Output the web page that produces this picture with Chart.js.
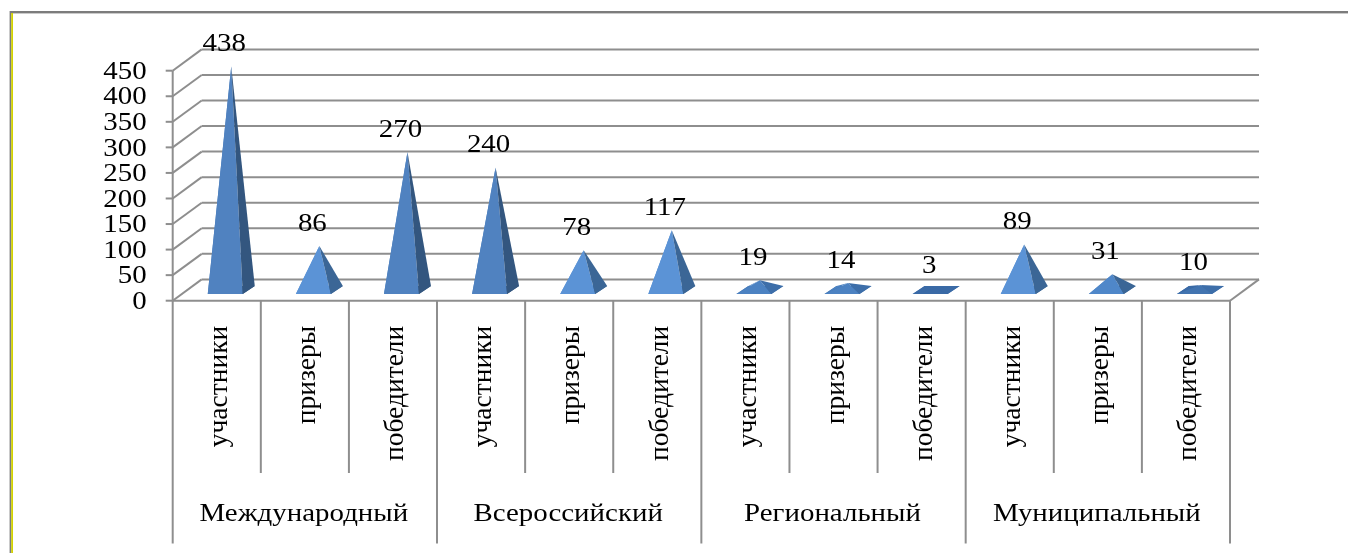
<!DOCTYPE html>
<html><head><meta charset="utf-8">
<style>html,body{margin:0;padding:0;background:#fff;overflow:hidden}
#wrap{width:1348px;height:553px;position:relative}
canvas{filter:blur(0.55px)}</style>
<script src="https://cdn.jsdelivr.net/npm/chart.js@4"></script>
</head><body><div id="wrap"><canvas id="c" width="1348" height="553"></canvas></div>
<script>
const roles = ['участники','призеры','победители','участники','призеры','победители','участники','призеры','победители','участники','призеры','победители'];
const levels = ['Международный','Всероссийский','Региональный','Муниципальный'];
const values = [438,86,270,240,78,117,19,14,3,89,31,10];
const yTicks = [0,50,100,150,200,250,300,350,400,450];

const GRID='#8e8e8e', SERIF='"Liberation Serif","Times New Roman",serif';
const DX=29, DY=21.3;
const STRETCH=1.18, TXT=24.5;

function frontColor(v){ if(v<=3) return '#3a6aa6'; if(v<=10) return '#4274b0'; if(v<=19) return '#4c82c2'; if(v<=31) return '#4f87c9'; if(v<=117) return '#5b93d6'; return '#5082c0'; }
function sideColor(v){ if(v<=3) return '#3a6aa6'; if(v<=19) return '#3d6ea9'; if(v<=117) return '#3b6696'; return '#33567f'; }
function leftColor(v){ return v<=10 ? '#3a6aa6' : frontColor(v); }

function stretched(ctx,text,x,y,align){
  ctx.save(); ctx.translate(x,y); ctx.scale(STRETCH,1);
  ctx.font=TXT+'px '+SERIF; ctx.fillStyle='#000'; ctx.textAlign=align; ctx.textBaseline='middle';
  ctx.fillText(text,0,0); ctx.restore();
}
function line(ctx,x1,y1,x2,y2){ ctx.beginPath(); ctx.moveTo(x1,y1); ctx.lineTo(x2,y2); ctx.stroke(); }
function poly(ctx,color,pts){ ctx.fillStyle=color; ctx.beginPath(); pts.forEach((p,i)=>i?ctx.lineTo(p[0],p[1]):ctx.moveTo(p[0],p[1])); ctx.closePath(); ctx.fill(); }

const wall3d={
  id:'wall3d',
  beforeDatasetsDraw(chart){
    const {ctx,scales:{x,y}}=chart, L=x.left, R=x.right, y0=y.getPixelForValue(0);
    ctx.save();
    ctx.fillStyle='#7c7c7c'; ctx.fillRect(10,11,1338,2.4); ctx.fillRect(9.6,11,1.6,542);
    ctx.fillStyle='#d2d200'; ctx.fillRect(11.2,13,1.8,540);
    ctx.strokeStyle=GRID; ctx.lineWidth=2;
    yTicks.forEach(v=>{
      const p=y.getPixelForValue(v);
      line(ctx,L-7,p,L,p);
      line(ctx,L,p,L+DX,p-DY);
      line(ctx,L+DX,p-DY,R+DX,p-DY);
    });
    line(ctx,L,y0,R,y0);
    line(ctx,R,y0,R+DX,y0-DY);
    line(ctx,L,y.getPixelForValue(450),L,y0);
    const cell=(R-L)/roles.length;
    for(let i=0;i<=roles.length;i++){
      const px=L+cell*i;
      line(ctx,px,y0,px,i%3===0?543.5:473);
    }
    ctx.restore();
  },
  beforeDatasetDraw(chart,args){
    const {ctx,scales:{y}}=chart, y0=y.getPixelForValue(0);
    ctx.save();
    chart.getDatasetMeta(args.index).data.forEach((bar,i)=>{
      const v=values[i], cx=bar.x+DX/2, base=y0-DY/2, ay=bar.y-DY/2, o=bar.options;
      const A=[cx,ay], FL=[cx-23.5,base+4], FR=[cx+11.5,base+4], BR=[cx+23.5,base-4], BL=[cx-11.5,base-4];
      poly(ctx,sideColor(v),[FL,FR,BR,BL]);
      poly(ctx,leftColor(v),[FL,BL,A]);
      poly(ctx,o.backgroundColor,[FL,FR,A]);
      poly(ctx,sideColor(v),[FR,BR,A]);
    });
    ctx.restore();
    return false;
  },
  afterDatasetsDraw(chart){
    const {ctx,scales:{x,y}}=chart, meta=chart.getDatasetMeta(0);
    meta.data.forEach((bar,i)=>{
      stretched(ctx,String(values[i]),bar.x+7.5,bar.y-DY/2-21.5,'center');
    });
    y.ticks.forEach((t,i)=>stretched(ctx,String(t.value),146.7,y.getPixelForTick(i)+1.8,'right'));
    const cell=(x.right-x.left)/roles.length;
    levels.forEach((g,i)=>stretched(ctx,g,x.left+cell*(3*i+1.5)-1,515,'center'));
  }
};

new Chart(document.getElementById('c'),{
  type:'bar',
  data:{labels:roles,datasets:[{data:values,backgroundColor:values.map(frontColor),barPercentage:0.4,categoryPercentage:1}]},
  plugins:[wall3d],
  options:{
    responsive:false,animation:false,
    layout:{padding:{top:70.7,right:118,left:0,bottom:0}},
    plugins:{legend:{display:false},tooltip:{enabled:false},title:{display:false}},
    scales:{
      x:{
        offset:true,
        grid:{display:false},border:{display:false},
        afterFit(s){s.height=252.3;},
        ticks:{autoSkip:false,minRotation:90,maxRotation:90,padding:17,labelOffset:3,color:'#000',font:{family:SERIF,size:27.5}}
      },
      y:{
        min:0,max:450,
        afterFit(s){s.width=172.7;},
        grid:{display:false},border:{display:false},
        ticks:{display:false,stepSize:50}
      }
    }
  }
});
</script></body></html>
